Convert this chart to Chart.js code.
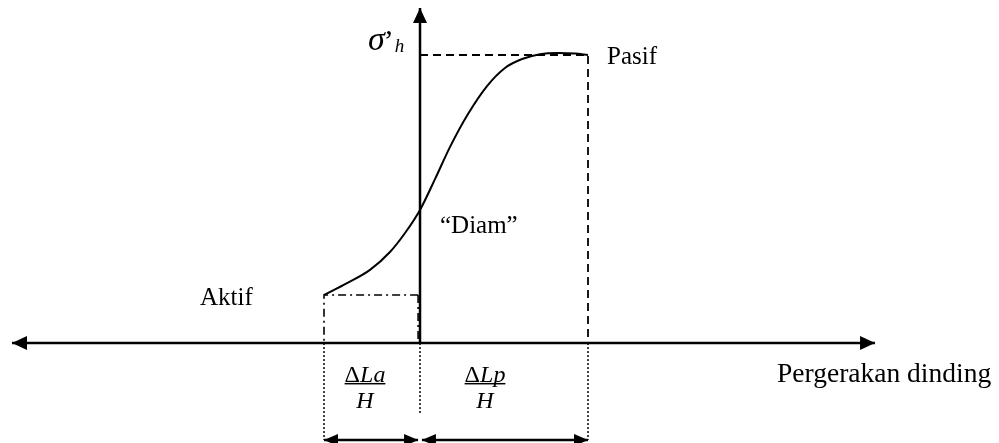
<!DOCTYPE html>
<html>
<head>
<meta charset="utf-8">
<script src="https://cdn.jsdelivr.net/npm/chart.js@4"></script>
<style>
html, body { margin: 0; padding: 0; background: #fff; }
#wrap { width: 999px; height: 443px; position: relative; }
</style>
</head>
<body>
<div id="wrap"><canvas id="myChart"></canvas></div>
<script>
// stress path: x = wall movement (in units of dLa/H), y = sigma'h (passive = 1)
var curveX = [-1, -0.76, -0.521, -0.313, -0.156, 0, 0.156, 0.313, 0.5, 0.698, 0.885, 1.063, 1.25, 1.438, 1.615, 1.75];
var curveY = [0.167, 0.208, 0.254, 0.316, 0.382, 0.462, 0.569, 0.681, 0.795, 0.892, 0.955, 0.986, 1.003, 1.007, 1.005, 1.0];

var activeX = -1;     // dLa/H
var passiveX = 1.75;  // dLp/H
var activeY = 0.167;
var passiveY = 1.0;

var xRange = [-4.375, 6.031];
var yRange = [-0.347, 1.191];

var axisX = [-4.25, 4.74];   // horizontal axis ends
var axisTop = 1.163;         // vertical axis tip
var dimY = -0.337;           // level of the dimension arrows
var midTickY = -0.243;

var texts = [
    { text: "Pasif", x: 1.948, y: 0.969, size: 25 },
    { text: "\u201CDiam\u201D", x: 0.208, y: 0.382, size: 25 },
    { text: "Aktif", x: -2.292, y: 0.132, size: 25 },
    { text: "Pergerakan dinding", x: 3.719, y: -0.135, size: 27.5 }
];
var fractions = [
    { sym: "\u0394", num: "La", den: "H", x: -0.573 },
    { sym: "\u0394", num: "Lp", den: "H", x: 0.677 }
];
var numY = -0.135, denY = -0.226;

function line(xs, ys, width, dash, extra) {
    var ds = {
        data: xs.map(function (x, i) { return { x: x, y: ys[i] }; }),
        borderColor: "#000",
        borderWidth: width,
        borderDash: dash || [],
        showLine: true,
        pointRadius: 0,
        fill: false
    };
    for (var k in extra || {}) ds[k] = extra[k];
    return ds;
}

function head(ctx, from, to, size) {
    var a = Math.atan2(to.y - from.y, to.x - from.x);
    ctx.save();
    ctx.translate(to.x, to.y);
    ctx.rotate(a);
    ctx.beginPath();
    ctx.moveTo(0, 0);
    ctx.lineTo(-size[0], -size[1]);
    ctx.lineTo(-size[0], size[1]);
    ctx.closePath();
    ctx.fillStyle = "#000";
    ctx.fill();
    ctx.restore();
}

var arrowHeads = {
    id: "arrowHeads",
    afterDatasetsDraw: function (chart) {
        var ctx = chart.ctx;
        chart.data.datasets.forEach(function (ds, i) {
            if (!ds.arrows) return;
            var pts = chart.getDatasetMeta(i).data, n = pts.length;
            if (ds.arrows.indexOf("end") >= 0) head(ctx, pts[n - 2], pts[n - 1], ds.arrowSize);
            if (ds.arrows.indexOf("start") >= 0) head(ctx, pts[1], pts[0], ds.arrowSize);
        });
    }
};

var serif = "'Liberation Serif', 'Times New Roman', serif";

var textLabels = {
    id: "textLabels",
    afterDatasetsDraw: function (chart) {
        var ctx = chart.ctx, sx = chart.scales.x, sy = chart.scales.y;
        ctx.save();
        ctx.fillStyle = "#000";
        ctx.textBaseline = "alphabetic";
        ctx.textAlign = "left";
        texts.forEach(function (t) {
            ctx.font = t.size + "px " + serif;
            ctx.fillText(t.text, sx.getPixelForValue(t.x), sy.getPixelForValue(t.y));
        });

        // sigma'h
        var px = sx.getPixelForValue(-0.542), py = sy.getPixelForValue(1.017);
        ctx.font = "italic 34px " + serif;
        ctx.fillText("\u03C3", px, py);
        var w = ctx.measureText("\u03C3").width;
        ctx.font = "30px " + serif;
        ctx.fillText("\u2019", px + w - 1, py);
        w += ctx.measureText("\u2019").width;
        ctx.font = "italic 19px " + serif;
        ctx.fillText("h", px + w, py + 2);

        // fractions
        fractions.forEach(function (f) {
            var cx = sx.getPixelForValue(f.x);
            var by = sy.getPixelForValue(numY);
            ctx.font = "24px " + serif;
            var w1 = ctx.measureText(f.sym).width;
            ctx.font = "italic 24px " + serif;
            var w2 = ctx.measureText(f.num).width;
            var x0 = cx - (w1 + w2) / 2;
            ctx.font = "24px " + serif;
            ctx.fillText(f.sym, x0, by);
            ctx.font = "italic 24px " + serif;
            ctx.fillText(f.num, x0 + w1, by);
            ctx.fillRect(x0, by + 1, w1 + w2, 1.5);
            ctx.textAlign = "center";
            ctx.fillText(f.den, cx, sy.getPixelForValue(denY));
            ctx.textAlign = "left";
        });
        ctx.restore();
    }
};

var datasets = [
    // horizontal axis (both arrows)
    line(axisX, [0, 0], 2.5, null, { arrows: ["start", "end"], arrowSize: [15, 7] }),
    // vertical axis
    line([0, 0], [0, axisTop], 2.5, null, { arrows: ["end"], arrowSize: [15, 7] }),
    // passive dashed guides
    line([0, passiveX, passiveX], [passiveY, passiveY, 0], 1.8, [8, 5]),
    // active dash-dot guides
    line([-0.02, activeX, activeX], [activeY, activeY, 0], 1.6, [8, 4, 2, 4]),
    line([-0.02, -0.02], [activeY, 0], 1.6, [8, 4, 2, 4]),
    // dotted extensions below the axis
    line([activeX, activeX], [0, dimY], 1.5, [2, 2]),
    line([passiveX, passiveX], [0, dimY], 1.5, [2, 2]),
    line([0, 0], [0, midTickY], 1.5, [2, 2]),
    // dimension arrows
    line([activeX, -0.02], [dimY, dimY], 2.5, null, { arrows: ["start", "end"], arrowSize: [14, 6] }),
    line([0.02, passiveX], [dimY, dimY], 2.5, null, { arrows: ["start", "end"], arrowSize: [14, 6] }),
    // stress curve
    line(curveX, curveY, 2, null, { cubicInterpolationMode: "monotone" })
];

new Chart("myChart", {
    type: "scatter",
    data: { datasets: datasets },
    options: {
        responsive: true,
        maintainAspectRatio: false,
        animation: false,
        layout: { padding: 0 },
        plugins: { legend: { display: false }, tooltip: { enabled: false } },
        scales: {
            x: { type: "linear", min: xRange[0], max: xRange[1], display: false },
            y: { type: "linear", min: yRange[0], max: yRange[1], display: false }
        }
    },
    plugins: [arrowHeads, textLabels]
});
</script>
</body>
</html>
